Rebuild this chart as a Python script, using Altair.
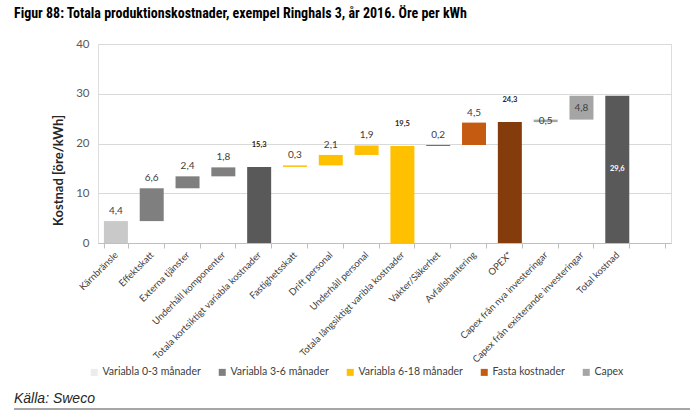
import altair as alt
import pandas as pd

# Kostnadsposter i ordning längs x-axeln
categories = [
    "Kärnbränsle", "Effektskatt", "Externa tjänster", "Underhåll komponenter",
    "Totala kortsiktigt variabla kostnader", "Fastighetsskatt", "Drift personal",
    "Underhåll personal", "Totala långsiktigt varibla kostnader", "Vakter/Säkerhet",
    "Avfallshantering", "OPEX*", "Capex från nya investeringar",
    "Capex från existerande investeringar", "Total kostnad",
]
# öre per kWh
values = [4.4, 6.6, 2.4, 1.8, 15.3, 0.3, 2.1, 1.9, 19.5, 0.2, 4.5, 24.3, 0.5, 4.8, 29.6]
# "steg" = flytande stapel, "summa" = delsumma från noll
kinds = ["steg", "steg", "steg", "steg", "summa", "steg", "steg", "steg", "summa",
         "steg", "steg", "summa", "steg", "steg", "summa"]
# fyllnadsnyckel per stapel
fill_keys = ["Kärnbränsle", "Variabla 3-6 månader", "Variabla 3-6 månader",
             "Variabla 3-6 månader", "Kortsiktig summa", "Variabla 6-18 månader",
             "Variabla 6-18 månader", "Variabla 6-18 månader", "Variabla 6-18 månader",
             "Fasta kostnader", "Fasta kostnader", "OPEX", "Capex", "Capex", "Total"]

legend_series = ["Variabla 0-3 månader", "Variabla 3-6 månader", "Variabla 6-18 månader",
                 "Fasta kostnader", "Capex"]
legend_colors = ["#ececec", "#7f7f7f", "#ffc000", "#c55a11", "#a5a5a5"]
extra_keys = ["Kärnbränsle", "Kortsiktig summa", "OPEX", "Total"]
extra_colors = ["#c9c9c9", "#595959", "#843c0c", "#595959"]

title_text = "Figur 88: Totala produktionskostnader, exempel Ringhals 3, år 2016. Öre per kWh"
source_text = "Källa: Sweco"

# Vattenfallets bas och topp: steg läggs på löpande summa, summor börjar från noll
rows = []
running = 0.0
for cat, v, k, f in zip(categories, values, kinds, fill_keys):
    if k == "steg":
        base, top = running, running + v
        running = top
    else:
        base, top = 0.0, v
        running = v
    if f == "Capex" or cat == categories[-1]:
        place = "mitt"
    elif k == "summa":
        place = "summa"
    else:
        place = "över"
    rows.append({
        "kategori": cat, "bas": base, "topp": top, "mitt": (base + top) / 2,
        "fyllning": f, "etikett": f"{v:.1f}".replace(".", ","), "placering": place,
        "sist": cat == categories[-1],
    })
df = pd.DataFrame(rows)

W, H = 573, 199
FONT = "Lato"
TITLE_FONT = "'Roboto Condensed', 'Liberation Sans Narrow', 'Arial Narrow', 'DejaVu Sans Condensed', Roboto, sans-serif"

x_enc = alt.X(
    "kategori:N",
    sort=categories,
    scale=alt.Scale(domain=categories + [" "], paddingInner=0.33, paddingOuter=0.165),
    axis=alt.Axis(
        title=None, labelAngle=-45, labelAlign="right", labelBaseline="middle",
        labelFont=FONT, labelFontSize=9.5, labelColor="#404040", labelPadding=5,
        tickBand="extent", tickSize=5, tickColor="#bfbfbf", domainColor="#bfbfbf",
        grid=False, labelLimit=300,
    ),
)

y_axis = alt.Axis(
    title="Kostnad [öre/kWh]", values=[0, 10, 20, 30, 40], grid=True,
    gridColor="#d9d9d9", domain=False, ticks=False, labelPadding=9,
    labelFont=FONT, labelFontSize=11.5, labelColor="#595959",
    titleFont=FONT, titleFontSize=13, titleFontWeight="bold", titleColor="#262626",
    titleAngle=-90, titleX=-40, titleY=126, titleAlign="center", titleBaseline="middle",
)
y_scale = alt.Scale(domain=[0, 40], nice=False)

bars = alt.Chart(df).mark_bar().encode(
    x=x_enc,
    y=alt.Y("bas:Q", scale=y_scale, axis=y_axis),
    y2="topp:Q",
    color=alt.Color(
        "fyllning:N",
        scale=alt.Scale(domain=legend_series + extra_keys, range=legend_colors + extra_colors),
        legend=alt.Legend(
            values=legend_series, title=None, orient="none", direction="horizontal",
            legendX=-9, legendY=323, symbolType="square", symbolSize=49,
            symbolStrokeWidth=0, labelFont=FONT, labelFontSize=10.5, labelColor="#404040",
            columnPadding=16, labelOffset=3,
        ),
    ),
)

labels_above = alt.Chart(df).transform_filter(alt.datum.placering == "över").mark_text(
    font=FONT, fontSize=10, color="#404040", baseline="bottom", dy=-5
).encode(x=x_enc, y=alt.Y("topp:Q", scale=y_scale, axis=y_axis), text="etikett:N")

labels_sum = alt.Chart(df).transform_filter(alt.datum.placering == "summa").mark_text(
    font=FONT, fontSize=7.5, fontWeight="bold", color="#262626", baseline="bottom", dy=-18
).encode(x=x_enc, y=alt.Y("topp:Q", scale=y_scale, axis=y_axis), text="etikett:N")

labels_mid = alt.Chart(df).transform_filter(
    (alt.datum.placering == "mitt") & (alt.datum.sist == False)
).mark_text(font=FONT, fontSize=10, color="#404040", baseline="middle").encode(
    x=x_enc, y=alt.Y("mitt:Q", scale=y_scale, axis=y_axis), text="etikett:N"
)

labels_total = alt.Chart(df).transform_filter(alt.datum.sist == True).mark_text(
    font=FONT, fontSize=7.5, fontWeight="bold", color="white", baseline="middle"
).encode(x=x_enc, y=alt.Y("mitt:Q", scale=y_scale, axis=y_axis), text="etikett:N")

source = alt.Chart(pd.DataFrame({"t": [source_text]})).mark_text(
    font="Liberation Sans", fontSize=14, fontStyle="italic", color="#262626",
    align="left", baseline="alphabetic"
).encode(x=alt.value(-84), y=alt.value(359), text="t:N")

rule = alt.Chart(pd.DataFrame({"t": [0]})).mark_rule(color="#a6a6a6", strokeWidth=2).encode(
    x=alt.value(-84), x2=alt.value(592), y=alt.value(365)
)

chart = alt.layer(
    bars, labels_above, labels_sum, labels_mid, labels_total, source, rule
).properties(
    width=W, height=H,
    padding={"left": 98, "top": 44, "right": 29, "bottom": 172},
    autosize=alt.AutoSizeParams(type="none"),
    title=alt.TitleParams(
        text=title_text, anchor="start", frame="group", dx=-84, offset=17,
        font=TITLE_FONT, fontSize=14, fontWeight="bold", color="#000000",
    ),
).configure_view(stroke=None).configure(background="white")

chart.save("out.html", embed_options={"renderer": "svg", "actions": False})
